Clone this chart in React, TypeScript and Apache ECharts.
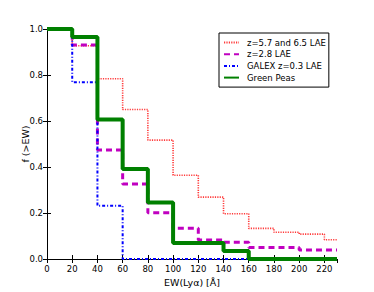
import React, { useEffect, useRef } from "react";
import * as echarts from "echarts";

const binEdges = [0, 20, 40, 60, 80, 100, 120, 140, 160, 180, 200, 220, 230];
const redValues = [1, 0.927, 0.784, 0.65, 0.517, 0.364, 0.269, 0.197, 0.133, 0.116, 0.108, 0.084];
const magentaValues = [1, 0.93, 0.474, 0.326, 0.201, 0.134, 0.083, 0.073, 0.05, 0.05, 0.039, 0.039];
const blueValues = [1, 0.769, 0.231, 0, 0, 0, 0, 0];
const greenValues = [1, 0.965, 0.607, 0.391, 0.246, 0.07, 0.07, 0.035, 0, 0, 0, 0];
const seriesNames = ["z=5.7 and 6.5 LAE", "z=2.8 LAE", "GALEX z=0.3 LAE", "Green Peas"];

function stepData(values: number[]) {
  const pts: number[][] = values.map((v, i) => [binEdges[i], v]);
  pts.push([binEdges[values.length], values[values.length - 1]]);
  return pts;
}

export default function App() {
  const ref = useRef<HTMLDivElement>(null);
  useEffect(() => {
    const chart = echarts.init(ref.current!, null, { renderer: "svg" });
    const font = "DejaVu Sans";
    const common = { type: "line", step: "end", showSymbol: false, symbol: "none", clip: true };
    chart.setOption({
      animation: false,
      textStyle: { fontFamily: font },
      grid: { left: 47, right: 37, top: 29, bottom: 30 },
      legend: {
        orient: "vertical",
        left: 219,
        top: 33,
        padding: [5, 3, 5, 4],
        itemGap: 2.7,
        itemWidth: 15,
        itemHeight: 10,
        borderColor: "#000",
        borderWidth: 1,
        backgroundColor: "#fff",
        itemStyle: { opacity: 0 },
        textStyle: { fontSize: 8.5, color: "#000", fontFamily: font, padding: [0, 0, 0, 3] },
        data: seriesNames,
      },
      xAxis: [
        {
          type: "value", min: 0, max: 230, interval: 20,
          name: "EW(Lyα) [Å]", nameLocation: "middle", nameGap: 18, nameMoveOverlap: false,
          nameTextStyle: { fontSize: 9.5, color: "#000" },
          axisLine: { show: true, lineStyle: { color: "#000", width: 1 } },
          axisTick: { inside: true, length: 4, lineStyle: { color: "#000" } },
          axisLabel: { fontSize: 8.5, color: "#000", margin: 5, showMaxLabel: false },
          splitLine: { show: false },
        },
        {
          type: "value", min: 0, max: 230, interval: 20, position: "top",
          axisLine: { show: true, lineStyle: { color: "#000", width: 1 } },
          axisTick: { inside: true, length: 4, lineStyle: { color: "#000" } },
          axisLabel: { show: false },
          splitLine: { show: false },
        },
      ],
      yAxis: [
        {
          type: "value", min: 0, max: 1, interval: 0.2,
          name: "f (>EW)", nameLocation: "middle", nameGap: 17, nameRotate: 90, nameMoveOverlap: false,
          nameTextStyle: { fontSize: 9.5, color: "#000" },
          axisLine: { show: true, lineStyle: { color: "#000", width: 1 } },
          axisTick: { inside: true, length: 4, lineStyle: { color: "#000" } },
          axisLabel: { fontSize: 8.5, color: "#000", margin: 4, formatter: (v: number) => v.toFixed(1) },
          splitLine: { show: false },
        },
        {
          type: "value", min: 0, max: 1, interval: 0.2, position: "right",
          axisLine: { show: true, lineStyle: { color: "#000", width: 1 } },
          axisTick: { inside: true, length: 4, lineStyle: { color: "#000" } },
          axisLabel: { show: false },
          splitLine: { show: false },
        },
      ],
      series: [
        {
          ...common, name: seriesNames[0], data: stepData(redValues), z: 2,
          itemStyle: { color: "#ff3a3a" },
          lineStyle: { color: "#ff3a3a", width: 1.6, type: [1.2, 1.2] },
        },
        {
          ...common, name: seriesNames[1], data: stepData(magentaValues), z: 3,
          itemStyle: { color: "#c000c0" },
          lineStyle: { color: "#c000c0", width: 3, type: [6, 4] },
        },
        {
          ...common, name: seriesNames[2], data: stepData(blueValues), z: 4,
          itemStyle: { color: "#0000ff" },
          lineStyle: { color: "#0000ff", width: 2, type: [3, 2, 1, 2] },
        },
        {
          ...common, name: seriesNames[3], data: stepData(greenValues), z: 5,
          itemStyle: { color: "#008000" },
          lineStyle: { color: "#008000", width: 4 },
        },
      ],
    });
    return () => chart.dispose();
  }, []);
  return <div ref={ref} style={{ width: 374, height: 292, position: "absolute", left: 0, top: 0, background: "#fff" }} />;
}
